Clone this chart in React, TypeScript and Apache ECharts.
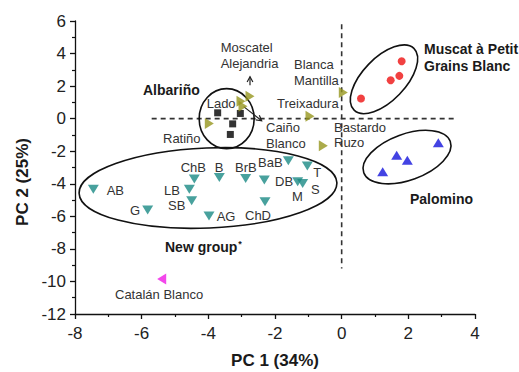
import React, { useEffect, useRef } from "react";
import * as echarts from "echarts";

// ---- data (PC1, PC2) ----
const albarino: number[][] = [[-3.72, 0.36], [-3.04, 0.32], [-3.27, -0.32], [-3.34, -0.97]];
const muscat: number[][] = [[1.80, 3.53], [1.73, 2.63], [1.47, 2.36], [0.58, 1.24]];
const palomino: number[][] = [[2.90, -1.48], [1.65, -2.24], [1.97, -2.55], [1.23, -3.26]];
const otherNames = ["Ratiño", "Lado", "Caiño Blanco", "Moscatel Alejandria", "Treixadura", "Blanca Mantilla", "Bastardo Ruzo"];
const otherPoints: number[][] = [[-3.97, -0.29], [-2.96, 0.77], [-3.02, 1.07], [-2.75, 1.38], [-0.95, 0.15], [0.05, 1.6], [-0.55, -1.67]];
const newGroupNames = ["AB", "ChB", "B", "BrB", "LB", "SB", "G", "AG", "BaB", "T", "DB", "M", "S", "ChD"];
const newGroupPoints: number[][] = [
  [-7.45, -4.34], [-4.42, -3.71], [-3.67, -3.61], [-2.88, -3.67], [-4.57, -4.34], [-4.50, -5.04],
  [-5.82, -5.61], [-3.98, -5.98], [-1.60, -2.59], [-1.03, -2.91], [-2.32, -3.77], [-1.32, -3.88],
  [-1.17, -3.98], [-2.30, -5.10],
];
const catalan: number[][] = [[-5.40, -9.85]];

// ---- annotations (data coordinates) ----
const textLabels = [
  "Moscatel", "Alejandria", "Blanca", "Mantilla", "Lado", "Treixadura", "Caiño", "Blanco", "Bastardo", "Ruzo", "Ratiño",
  "ChB", "B", "BrB", "BaB", "T", "DB", "S", "M", "AB", "LB", "SB", "G", "AG", "ChD", "Catalán Blanco",
];
const textPos: number[][] = [
  [-3.63, 4.37], [-3.63, 3.39], [-1.43, 3.34], [-1.43, 2.36], [-4.05, 0.93], [-1.94, 0.93], [-2.27, -0.54], [-2.27, -1.52],
  [-0.23, -0.54], [-0.23, -1.48], [-5.36, -1.20],
  [-4.83, -2.99], [-3.81, -2.99], [-3.20, -2.99], [-2.51, -2.71], [-0.85, -3.30], [-2.00, -3.88], [-0.92, -4.34],
  [-1.49, -4.80], [-7.05, -4.39], [-5.33, -4.39], [-5.21, -5.31], [-6.35, -5.66], [-3.75, -6.02], [-2.90, -5.92],
  [-6.80, -10.79],
];
const groupLabels = ["Albariño", "Muscat à Petit", "Grains Blanc", "Palomino", "New group{s|*}"];
const groupLabelPos: number[][] = [[-5.96, 1.75], [2.47, 4.25], [2.47, 3.22], [2.05, -4.96], [-5.30, -7.87]];

// ellipses: centre (data), semi-axes (px), rotation (deg, ccw)
const ellipses = [
  { c: [-3.45, 0.0], rx: 27.5, ry: 30, rot: 0 },
  { c: [1.27, 2.42], rx: 43, ry: 21.5, rot: 46 },
  { c: [1.96, -2.36], rx: 46, ry: 23, rot: 20 },
  { c: [-4.01, -4.26], rx: 129, ry: 40, rot: 2.4 },
];
const arrows: number[][] = [[-2.75, 2.06, -2.75, 2.58], [-2.94, 0.74, -2.40, -0.13]];

const FONT = "'Liberation Sans', Arial, Helvetica, sans-serif";

export default function App() {
  const ref = useRef<HTMLDivElement>(null);
  useEffect(() => {
    const chart = echarts.init(ref.current!, null, { renderer: "svg" });
    const axisCommon = {
      type: "value" as const,
      splitLine: { show: false },
      axisLine: { show: true, onZero: false, lineStyle: { color: "#111", width: 1.3 } },
      axisTick: { show: true, inside: false, length: 5, lineStyle: { color: "#111", width: 1.3 } },
      minorTick: { show: true, splitNumber: 2, length: 3, lineStyle: { color: "#111", width: 1.2 } },
    };
    const option: any = {
      animation: false,
      backgroundColor: "#fff",
      grid: { left: 75, right: 44, top: 21, bottom: 58, containLabel: false, outerBoundsMode: "none" },
      xAxis: {
        ...axisCommon,
        min: -8, max: 4, interval: 2,
        axisLabel: { fontSize: 17, color: "#222", fontFamily: FONT, margin: 11 },
        name: "PC 1 (34%)", nameLocation: "middle", nameGap: 38,
        nameTextStyle: { fontSize: 17, fontWeight: "bold", color: "#1a1a1a", fontFamily: FONT },
      },
      yAxis: {
        ...axisCommon, min: -12, max: 6, interval: 2,
        axisLabel: { fontSize: 17, color: "#222", fontFamily: FONT, margin: 9 },
      },
      graphic: [
        {
          type: "text", x: 22, y: 182, rotation: Math.PI / 2,
          style: { text: "PC 2 (25%)", font: `bold 17px ${FONT}`, fill: "#1a1a1a", align: "center", verticalAlign: "middle" },
        },
      ],
      series: [
        { type: "line", data: [[0, 5.8], [0, -9.2]], symbol: "none", silent: true,
          lineStyle: { color: "#333", width: 1.6, type: [5, 4] }, z: 1 },
        { type: "line", data: [[-5.7, 0], [3.4, 0]], symbol: "none", silent: true,
          lineStyle: { color: "#333", width: 1.6, type: [5, 4] }, z: 1 },
        {
          type: "custom", silent: true, z: 2,
          data: ellipses.map((e) => e.c),
          renderItem: (params: any, api: any) => {
            const e = ellipses[params.dataIndex];
            const p = api.coord([api.value(0), api.value(1)]);
            return {
              type: "ellipse", x: p[0], y: p[1], rotation: (e.rot * Math.PI) / 180,
              shape: { cx: 0, cy: 0, rx: e.rx, ry: e.ry },
              style: { fill: "none", stroke: "#111", lineWidth: 1.6 },
            };
          },
        },
        {
          type: "custom", silent: true, z: 3,
          data: arrows, encode: { x: [0, 2], y: [1, 3] },
          renderItem: (params: any, api: any) => {
            const a = api.coord([api.value(0), api.value(1)]);
            const b = api.coord([api.value(2), api.value(3)]);
            const ang = Math.atan2(b[1] - a[1], b[0] - a[0]);
            const h = 6, w = 0.5;
            const p1 = [b[0] - h * Math.cos(ang - w), b[1] - h * Math.sin(ang - w)];
            const p2 = [b[0] - h * Math.cos(ang + w), b[1] - h * Math.sin(ang + w)];
            return {
              type: "group",
              children: [
                { type: "line", shape: { x1: a[0], y1: a[1], x2: b[0], y2: b[1] }, style: { stroke: "#222", lineWidth: 1.2 } },
                { type: "polyline", shape: { points: [p1, b, p2] }, style: { stroke: "#222", lineWidth: 1.2, fill: "none" } },
              ],
            };
          },
        },
        { type: "scatter", name: "Albariño", data: albarino, symbol: "rect", symbolSize: 7, itemStyle: { color: "#000" }, z: 5 },
        { type: "scatter", name: "Muscat", data: muscat, symbol: "circle", symbolSize: 8, itemStyle: { color: "#ee1111" }, z: 5 },
        { type: "scatter", name: "Palomino", data: palomino, symbol: "triangle", symbolSize: [11, 9], itemStyle: { color: "#1414dc" }, z: 5 },
        { type: "scatter", name: "Others", data: otherPoints.map((p, i) => ({ name: otherNames[i], value: p })),
          symbol: "triangle", symbolSize: [11, 9], symbolRotate: -90, itemStyle: { color: "#96961e" }, z: 5 },
        { type: "scatter", name: "New group", data: newGroupPoints.map((p, i) => ({ name: newGroupNames[i], value: p })),
          symbol: "triangle", symbolSize: [11, 9], symbolRotate: 180, itemStyle: { color: "#1a8a85" }, z: 5 },
        { type: "scatter", name: "Catalán Blanco", data: catalan, symbol: "triangle", symbolSize: [11, 9], symbolRotate: 90,
          itemStyle: { color: "#f019e6" }, z: 5 },
        {
          type: "custom", silent: true, z: 6,
          data: textPos,
          renderItem: (params: any, api: any) => {
            const p = api.coord([api.value(0), api.value(1)]);
            return {
              type: "text", x: p[0], y: p[1],
              style: { text: textLabels[params.dataIndex], font: `13px ${FONT}`, fill: "#333", align: "left", verticalAlign: "middle" },
            };
          },
        },
        {
          type: "custom", silent: true, z: 6,
          data: groupLabelPos,
          renderItem: (params: any, api: any) => {
            const p = api.coord([api.value(0), api.value(1)]);
            return {
              type: "text", x: p[0], y: p[1],
              style: {
                text: groupLabels[params.dataIndex], font: `bold 14px ${FONT}`, fill: "#1a1a1a", align: "left", verticalAlign: "middle",
                rich: { s: { fontSize: 9, fontWeight: "bold", fontFamily: FONT, fill: "#1a1a1a", verticalAlign: "top", padding: [0, 0, 6, 1] } },
              },
            };
          },
        },
      ],
    };
    chart.setOption(option);
    return () => chart.dispose();
  }, []);
  return <div ref={ref} style={{ position: "fixed", left: 0, top: 0, width: 519, height: 372 }} />;
}
